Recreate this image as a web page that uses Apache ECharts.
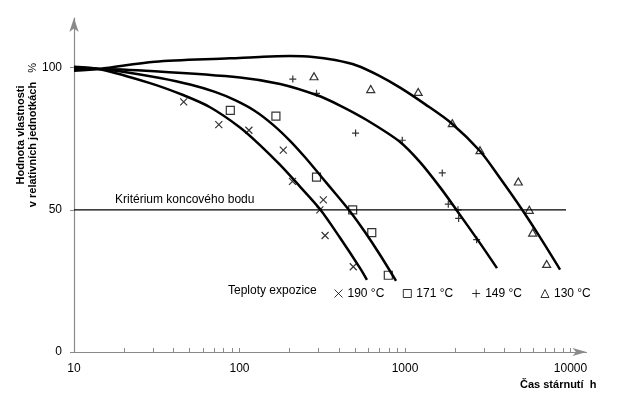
<!DOCTYPE html>
<html>
<head>
<meta charset="utf-8">
<script src="https://cdn.jsdelivr.net/npm/echarts@6/dist/echarts.min.js"></script>
<style>
  html, body { margin: 0; padding: 0; background: #fff; }
  #chart { width: 622px; height: 399px; }
</style>
</head>
<body>
<div id="chart"></div>
<script>
// tick values
const xLabelValues = [10, 100, 1000, 10000];
const xTickValues = [10, 20, 30, 40, 50, 60, 70, 80, 90,
  100, 200, 300, 400, 500, 600, 700, 800, 900,
  1000, 2000, 3000, 4000, 5000, 6000, 7000, 8000, 9000, 10000];
const yLabelValues = [0, 50, 100];

const seriesNames = ['190 °C', '171 °C', '149 °C', '130 °C'];

// measured points [hours, value %]
const points190 = [[46, 88], [75, 80], [114, 78], [184, 71], [209, 60], [321, 53.5], [306, 50], [329, 41], [487, 30]];
const points171 = [[88, 85], [166, 83], [292, 61.5], [483, 50], [630, 42], [793, 27]];
const points149 = [[210, 96], [292, 91], [503, 77], [963, 74.5], [1680, 63], [1827, 52], [2090, 50], [2110, 47], [2710, 39.5]];
const points130 = [[282, 97], [621, 92.5], [1202, 91.5], [1932, 80.5], [2839, 71], [4840, 60], [5640, 50], [5910, 42], [7180, 31]];

// fitted curves
const curve190 = [[10, 100.35], [14.35, 99.5], [28.8, 94.6], [45.6, 90.4], [66.4, 86.1], [100.7, 79], [133, 72.8],
  [176, 65.8], [232, 58.2], [306, 50.3], [405, 40.2], [534, 29.6], [589, 25.4]];
const curve171 = [[10, 100.1], [14.35, 99.6], [18.9, 98.8], [33.1, 96.4], [50.3, 94.1], [71.1, 91.5], [94, 88.6],
  [124, 84.8], [159, 80], [202, 74.3], [249, 68.5], [315, 61.4], [383, 55.5], [465, 49.5], [573, 42.2],
  [706, 34.2], [883, 25]];
const curve149 = [[10, 99.6], [14.35, 99.6], [30.8, 98.8], [100.7, 96.6], [176, 94.3], [292, 90.4], [405, 86.7],
  [587, 81.6], [934, 73.9], [1233, 66.8], [1627, 58], [2052, 49.9], [2839, 38.3], [3597, 29.5]];
const curve130 = [[10, 98.9], [14.35, 99.6], [30.8, 102.1], [87.7, 103.3], [139, 103.9], [202, 104.1], [278, 103.8],
  [378, 102.7], [511, 100.8], [687, 97.4], [934, 93], [1321, 87.2], [1916, 80.4], [2839, 70.7], [3750, 61.2],
  [5070, 50.3], [6540, 40.4], [8650, 29]];

const criterion = [[10, 50], [9400, 50]];

const FONT = '"Liberation Sans", Arial, sans-serif';
const AXIS_GRAY = '#8a8a8a';

const chart = echarts.init(document.getElementById('chart'));

function curveSeries(data) {
  return {
    type: 'line', data: data, smooth: 0.3, symbol: 'none',
    lineStyle: {color: '#000', width: 2.5}, silent: true, z: 3
  };
}

function pointSeries(name, data, symbol, size) {
  return {
    name: name, type: 'scatter', data: data, symbol: symbol, symbolSize: size,
    itemStyle: {color: 'none', borderColor: '#000', borderWidth: 1.2}, z: 4
  };
}

const crossPath = 'path://M0,0L10,10M10,0L0,10';
const plusPath = 'path://M5,0L5,10M0,5L10,5';
const rectPath = 'path://M0,0L10,0L10,10L0,10Z';
const triPath = 'path://M5,0L10,10L0,10Z';

chart.setOption({
  animation: false,
  grid: {left: 74, right: 35.5, top: 18, bottom: 47},
  xAxis: {
    type: 'log', min: 10, max: 12500, logBase: 10,
    axisLine: {lineStyle: {color: AXIS_GRAY, width: 1.2}, symbol: ['none', 'arrow'], symbolSize: [6, 14]},
    axisTick: {customValues: xTickValues, inside: true, length: 4, lineStyle: {color: AXIS_GRAY}},
    axisLabel: {customValues: xLabelValues, margin: 11, color: '#000', fontSize: 12, fontFamily: FONT,
      formatter: v => String(v)},
    splitLine: {show: false}
  },
  yAxis: {
    type: 'value', min: 0, max: 117.5,
    axisLine: {show: true, lineStyle: {color: AXIS_GRAY, width: 1.2}, symbol: ['none', 'arrow'], symbolSize: [7, 14]},
    axisTick: {show: true, customValues: yLabelValues, length: 4, lineStyle: {color: AXIS_GRAY}},
    axisLabel: {customValues: yLabelValues, margin: 12, color: '#000', fontSize: 12, fontFamily: FONT},
    splitLine: {show: false}
  },
  legend: {
    data: seriesNames, left: 327, top: 282, itemWidth: 8, itemHeight: 8, itemGap: 16.5,
    itemStyle: {borderWidth: 1},
    textStyle: {fontSize: 12, fontFamily: FONT, color: '#000'},
    selectedMode: false
  },
  graphic: [
    {type: 'text', left: 228, top: 285, style: {text: 'Teploty expozice', font: '12px ' + FONT, fill: '#000'}},
    {type: 'text', left: 115, top: 194, style: {text: 'Kritérium koncového bodu', font: '12px ' + FONT, fill: '#000'}},
    {type: 'text', left: 520, top: 379, style: {text: 'Čas stárnutí  h', font: 'bold 11px ' + FONT, fill: '#000'}},
    {type: 'text', x: 15, y: 135, rotation: Math.PI / 2,
      style: {text: 'Hodnota vlastnosti\nv relativních jednotkách   {p|%}', font: 'bold 11px ' + FONT, fill: '#000',
        align: 'center', verticalAlign: 'top', lineHeight: 12,
        rich: {p: {font: '11px ' + FONT, fill: '#000', lineHeight: 12}}}}
  ],
  series: [
    curveSeries(curve190),
    curveSeries(curve171),
    curveSeries(curve149),
    curveSeries(curve130),
    {type: 'line', data: criterion, symbol: 'none', lineStyle: {color: '#000', width: 1.2}, silent: true, z: 2},
    pointSeries(seriesNames[0], points190, crossPath, 7),
    pointSeries(seriesNames[1], points171, rectPath, 8),
    pointSeries(seriesNames[2], points149, plusPath, 7),
    pointSeries(seriesNames[3], points130, triPath, [8, 7])
  ]
});
</script>
</body>
</html>
